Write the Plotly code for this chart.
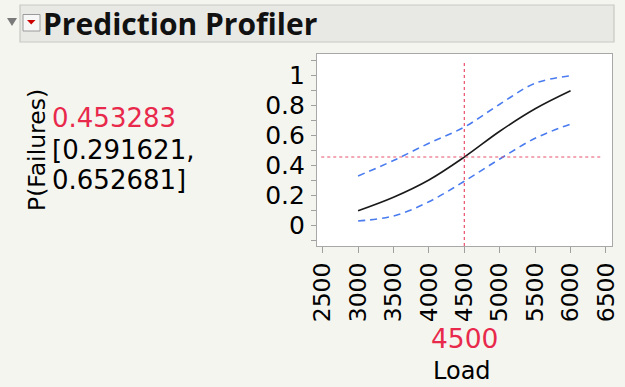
import plotly.graph_objects as go

# ---- data ----
load = [3000, 3500, 4000, 4500, 5000, 5500, 6000]
p_fail = [0.095, 0.185, 0.300, 0.453, 0.625, 0.775, 0.895]
p_upper = [0.327, 0.430, 0.545, 0.653, 0.805, 0.945, 0.995]
p_lower = [0.027, 0.060, 0.155, 0.292, 0.440, 0.578, 0.673]
x_ticks = [2500, 3000, 3500, 4000, 4500, 5000, 5500, 6000, 6500]
y_ticks = [0, 0.2, 0.4, 0.6, 0.8, 1]
y_tick_text = ["0", "0.2", "0.4", "0.6", "0.8", "1"]
current_load = 4500
current_p = 0.453283
ci_low = 0.291621
ci_high = 0.652681

W, H = 625, 387
L, R, T, B = 317, 612, 54, 246  # plot area in pixels


def px(X):
    return (X - L) / (R - L)


def py(Y):
    return (B - Y) / (B - T)


RED = "#e8294b"
BLUE = "#4a7cf0"
BG = "#f5f5f0"

fig = go.Figure()
fig.add_trace(go.Scatter(x=load, y=p_upper, mode="lines", line=dict(color=BLUE, width=1.6, dash="7px,5px", shape="spline"), hoverinfo="skip"))
fig.add_trace(go.Scatter(x=load, y=p_lower, mode="lines", line=dict(color=BLUE, width=1.6, dash="7px,5px", shape="spline"), hoverinfo="skip"))
fig.add_trace(go.Scatter(x=load, y=p_fail, mode="lines", line=dict(color="#1a1a1a", width=1.6, shape="spline"), hoverinfo="skip"))

shapes = []
# header bar
shapes.append(dict(type="rect", xref="paper", yref="paper", x0=px(20), x1=px(614), y0=py(42), y1=py(5),
                   fillcolor="#e8e8e4", line=dict(color="#c8c8c3", width=1.2), layer="below"))
# disclosure triangle
shapes.append(dict(type="path", xref="paper", yref="paper",
                   path=f"M {px(7)},{py(18)} L {px(17)},{py(18)} L {px(12)},{py(26)} Z",
                   fillcolor="#7a7a7a", line=dict(width=0)))
# red menu box
shapes.append(dict(type="rect", xref="paper", yref="paper", x0=px(23), x1=px(40), y0=py(31), y1=py(14.5),
                   fillcolor="#f7f7f7", line=dict(color="#9a9a9a", width=1)))
shapes.append(dict(type="path", xref="paper", yref="paper",
                   path=f"M {px(27)},{py(20)} L {px(35.5)},{py(20)} L {px(31.2)},{py(24.5)} Z",
                   fillcolor="#cc0000", line=dict(width=0)))
# crosshairs
shapes.append(dict(type="line", xref="x", yref="y", x0=current_load, x1=current_load, y0=-0.14, y1=1.09,
                   line=dict(color="#e8506a", width=1.2, dash="dot")))
shapes.append(dict(type="line", xref="x", yref="y", x0=2480, x1=6440, y0=current_p, y1=current_p,
                   line=dict(color="#e8506a", width=1.2, dash="dot")))

ann = []
ann.append(dict(text="<b>Prediction Profiler</b>", xref="paper", yref="paper", x=px(41), y=py(23.5),
                xanchor="left", yanchor="middle", showarrow=False,
                font=dict(family="Open Sans", size=30, color="#111111")))
ann.append(dict(text="P(Failures)", xref="paper", yref="paper", x=px(37), y=py(150), textangle=-90,
                xanchor="center", yanchor="middle", showarrow=False,
                font=dict(family="DejaVu Sans", size=23.5, color="#000000")))
ann.append(dict(text=f"{current_p:.6f}", xref="paper", yref="paper", x=px(50), y=py(118),
                xanchor="left", yanchor="middle", showarrow=False,
                font=dict(family="DejaVu Sans", size=26, color=RED)))
ann.append(dict(text=f"[{ci_low:.6f},", xref="paper", yref="paper", x=px(50), y=py(150),
                xanchor="left", yanchor="middle", showarrow=False,
                font=dict(family="DejaVu Sans", size=26, color="#000000")))
ann.append(dict(text=f"{ci_high:.6f}]", xref="paper", yref="paper", x=px(50), y=py(180),
                xanchor="left", yanchor="middle", showarrow=False,
                font=dict(family="DejaVu Sans", size=26, color="#000000")))
ann.append(dict(text=str(current_load), xref="x", yref="paper", x=current_load, y=py(338),
                xanchor="center", yanchor="middle", showarrow=False,
                font=dict(family="DejaVu Sans", size=26.5, color=RED)))
ann.append(dict(text="Load", xref="paper", yref="paper", x=px(461.5), y=py(371),
                xanchor="center", yanchor="middle", showarrow=False,
                font=dict(family="DejaVu Sans", size=24, color="#000000")))

fig.update_layout(
    width=W, height=H,
    margin=dict(l=L, r=W - R, t=T, b=H - B, pad=0, autoexpand=False),
    paper_bgcolor=BG, plot_bgcolor="#ffffff",
    showlegend=False,
    shapes=shapes, annotations=ann,
    xaxis=dict(range=[2420, 6585], tickvals=x_ticks, ticktext=[str(v) for v in x_ticks],
               tickangle=-90, ticks="outside", ticklen=6, tickcolor="#a0a0a0", tickwidth=1.2, automargin=False,
               showgrid=False, zeroline=False, showline=True, linecolor="#a8a8a8", linewidth=1.2, mirror=True,
               tickfont=dict(family="DejaVu Sans", size=23.5, color="#000000"), ticklabelstandoff=0),
    yaxis=dict(range=[-0.14, 1.14], tickvals=y_ticks, ticktext=y_tick_text, automargin=False,
               ticks="outside", ticklen=5, tickcolor="#a0a0a0", tickwidth=1.2,
               minor=dict(dtick=0.1, tick0=0, ticks="outside", ticklen=5, tickcolor="#a0a0a0", tickwidth=1.2, showgrid=False),
               showgrid=False, zeroline=False, showline=True, linecolor="#a8a8a8", linewidth=1.2, mirror=True,
               tickfont=dict(family="DejaVu Sans", size=25, color="#000000"), ticklabelstandoff=1),
)

fig.write_html("out.html", config={"displayModeBar": False},
               post_script="document.body.style.margin='0';document.body.style.background='%s';" % BG)
